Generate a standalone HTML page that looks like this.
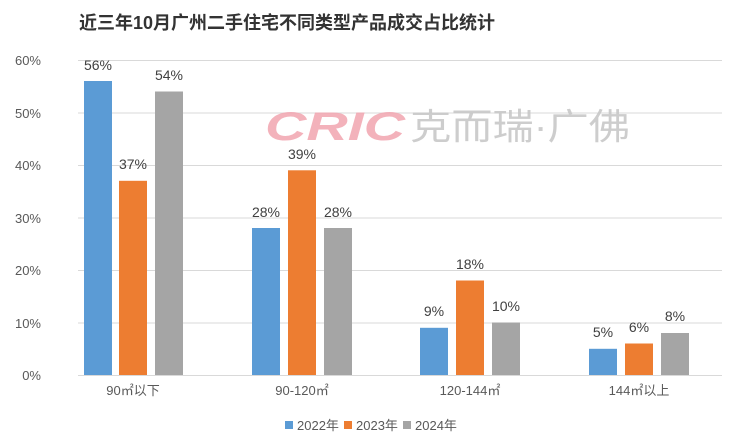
<!DOCTYPE html>
<html><head><meta charset="utf-8"><style>
html,body{margin:0;padding:0;background:#fff;}
svg{display:block;font-family:"Liberation Sans","Noto Sans CJK SC",sans-serif;}
</style></head><body>
<svg width="740" height="448" viewBox="0 0 740 448">
<rect width="740" height="448" fill="#fff"/>
<text x="79" y="29" font-size="18" font-weight="bold" fill="#333">近三年10月广州二手住宅不同类型产品成交占比统计</text>
<g stroke="#d9d9d9" stroke-width="1">
<line x1="78" x2="722" y1="60.5" y2="60.5"/>
<line x1="78" x2="722" y1="113" y2="113"/>
<line x1="78" x2="722" y1="165.5" y2="165.5"/>
<line x1="78" x2="722" y1="218" y2="218"/>
<line x1="78" x2="722" y1="270.5" y2="270.5"/>
<line x1="78" x2="722" y1="323" y2="323"/>
<line x1="78" x2="722" y1="375.5" y2="375.5"/>
</g>
<g font-size="13" fill="#595959" text-anchor="end">
<text x="41" y="65">60%</text><text x="41" y="118">50%</text><text x="41" y="170">40%</text>
<text x="41" y="223">30%</text><text x="41" y="275">20%</text><text x="41" y="328">10%</text><text x="41" y="380">0%</text>
</g>
<text x="265" y="140" font-size="40" font-style="italic" font-weight="bold" fill="#f2a5b0" opacity="0.85" textLength="140" lengthAdjust="spacingAndGlyphs">CRIC</text>
<text x="410" y="139" font-size="36" fill="#c8c8c8" opacity="0.9" textLength="220" lengthAdjust="spacingAndGlyphs">克而瑞·广佛</text>
<g>
<rect x="84" y="81" width="28" height="294" fill="#5b9bd5"/>
<rect x="119" y="180.8" width="28" height="194.2" fill="#ed7d31"/>
<rect x="155" y="91.5" width="28" height="283.5" fill="#a5a5a5"/>
<rect x="252" y="228" width="28" height="147" fill="#5b9bd5"/>
<rect x="288" y="170.3" width="28" height="204.7" fill="#ed7d31"/>
<rect x="324" y="228" width="28" height="147" fill="#a5a5a5"/>
<rect x="420" y="327.8" width="28" height="47.2" fill="#5b9bd5"/>
<rect x="456" y="280.5" width="28" height="94.5" fill="#ed7d31"/>
<rect x="492" y="322.5" width="28" height="52.5" fill="#a5a5a5"/>
<rect x="589" y="348.8" width="28" height="26.2" fill="#5b9bd5"/>
<rect x="625" y="343.5" width="28" height="31.5" fill="#ed7d31"/>
<rect x="661" y="333" width="28" height="42" fill="#a5a5a5"/>
</g>
<g font-size="14" fill="#404040" text-anchor="middle">
<text x="98" y="70">56%</text><text x="133" y="169">37%</text><text x="169" y="80">54%</text>
<text x="266" y="217">28%</text><text x="302" y="159">39%</text><text x="338" y="217">28%</text>
<text x="434" y="316">9%</text><text x="470" y="269">18%</text><text x="506" y="311">10%</text>
<text x="603" y="337">5%</text><text x="639" y="332">6%</text><text x="675" y="321">8%</text>
</g>
<g font-size="13" fill="#595959" text-anchor="middle">
<text x="133" y="395">90㎡以下</text><text x="302" y="395">90-120㎡</text>
<text x="470" y="395">120-144㎡</text><text x="639" y="395">144㎡以上</text>
</g>
<rect x="285" y="421" width="8" height="8" fill="#5b9bd5"/>
<text x="297" y="430" font-size="13" fill="#595959">2022年</text>
<rect x="344" y="421" width="8" height="8" fill="#ed7d31"/>
<text x="356" y="430" font-size="13" fill="#595959">2023年</text>
<rect x="403" y="421" width="8" height="8" fill="#a5a5a5"/>
<text x="415" y="430" font-size="13" fill="#595959">2024年</text>
</svg>
</body></html>
